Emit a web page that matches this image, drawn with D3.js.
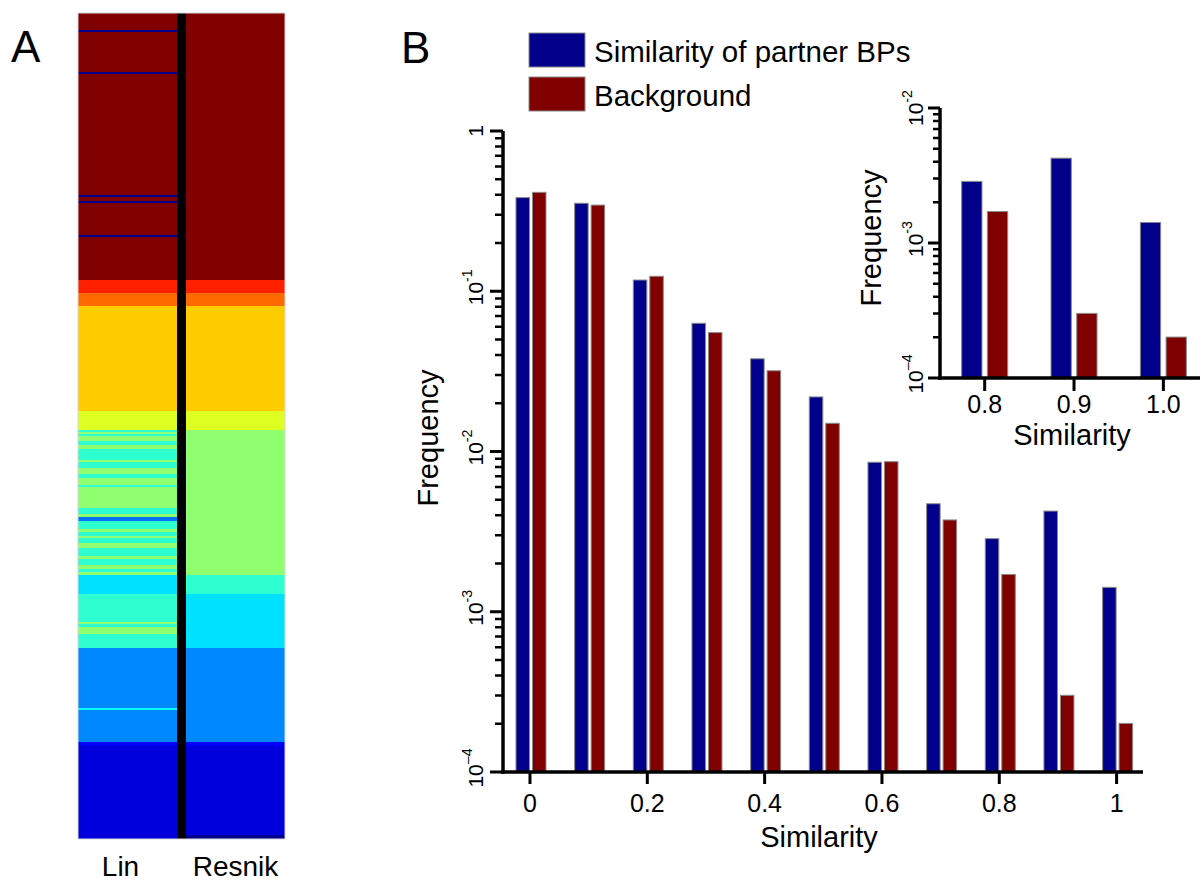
<!DOCTYPE html>
<html lang="en">
<head>
  <meta charset="UTF-8" />
  <title>Similarity of partner BPs</title>
  <script src="https://d3js.org/d3.v7.min.js"></script>
  <style>
    html, body { margin: 0; padding: 0; background: #fff; }
    svg { display: block; font-family: "Liberation Sans", Arial, sans-serif; }
  </style>
</head>
<body>
<svg id="chart" width="1202" height="882"></svg>
<script>
// panel B data
const categories = [0, 0.1, 0.2, 0.3, 0.4, 0.5, 0.6, 0.7, 0.8, 0.9, 1.0];
const partnerFreq = [0.384, 0.354, 0.1175, 0.0631, 0.0379, 0.0219, 0.00857, 0.00472, 0.00286, 0.00425, 0.00142];
const backgroundFreq = [0.414, 0.345, 0.124, 0.0552, 0.0319, 0.0150, 0.00864, 0.00374, 0.00171, 0.000301, 0.000201];
const seriesNames = ["Similarity of partner BPs", "Background"];
const seriesColors = ["#00008b", "#800000"];
const xTicks = [0, 0.2, 0.4, 0.6, 0.8, 1];
const xTickLabels = ["0", "0.2", "0.4", "0.6", "0.8", "1"];
const insetCategories = [0.8, 0.9, 1.0];
const insetTickLabels = ["0.8", "0.9", "1.0"];
const yDecades = [1e-4, 1e-3, 1e-2, 1e-1, 1];
const insetDecades = [1e-4, 1e-3, 1e-2];

// panel A data: runs of [similarity, number of rows], top to bottom
const linRuns = [
  [1, 17], [0, 2], [1, 40], [0, 2], [1, 121], [0, 2], [1, 4], [0, 2], [1, 32], [0, 2], [1, 43],
  [0.844, 13], [0.771, 13], [0.675, 105], [0.592, 19],
  [0.42, 2], [0.516, 2], [0.42, 2], [0.516, 5], [0.42, 4], [0.516, 4], [0.42, 11], [0.516, 2],
  [0.42, 6], [0.516, 6], [0.42, 4], [0.516, 7], [0.42, 2], [0.516, 21], [0.42, 6], [0.516, 3],
  [0.235, 4], [0.42, 8], [0.516, 3], [0.42, 4], [0.516, 2], [0.42, 5], [0.516, 5], [0.42, 8],
  [0.516, 3], [0.42, 6], [0.516, 4], [0.42, 3], [0.516, 3],
  [0.345, 19], [0.42, 28], [0.516, 2], [0.42, 3], [0.516, 7], [0.42, 14],
  [0.258, 60], [0.38, 2], [0.258, 32], [0.12, 4], [0.087, 93]
];
const resnikRuns = [
  [1, 267], [0.844, 13], [0.771, 13], [0.675, 105], [0.592, 19], [0.516, 145],
  [0.42, 19], [0.345, 54], [0.258, 94], [0.12, 4], [0.087, 89], [0, 4]
];
const methods = ["Lin", "Resnik"];

const svg = d3.select("#chart");

// jet colour map
const jet = d3.scaleLinear()
  .domain([0, 0.125, 0.375, 0.625, 0.875, 1])
  .range(["#00008f", "#0000ff", "#00ffff", "#ffff00", "#ff0000", "#800000"]);

// ---------- panel A ----------
const nRows = d3.sum(resnikRuns, d => d[1]);
const rowY = d3.scaleLinear().domain([0, nRows]).range([13, 839]);
const colX = d3.scaleBand().domain(methods).range([78, 285]).paddingInner(0.083);

function runsToCells(runs) {
  let start = 0;
  return runs.map(([v, n]) => { const c = { v, y0: start, y1: start + n }; start += n; return c; });
}

[linRuns, resnikRuns].forEach((runs, i) => {
  svg.append("g").selectAll("rect")
    .data(runsToCells(runs))
    .enter().append("rect")
    .attr("x", colX(methods[i]))
    .attr("width", colX.bandwidth())
    .attr("y", d => rowY(d.y0))
    .attr("height", d => rowY(d.y1) - rowY(d.y0) + 0.3)
    .attr("fill", d => jet(d.v))
    .attr("shape-rendering", "crispEdges");
});
// black divider
svg.append("rect")
  .attr("x", colX("Lin") + colX.bandwidth())
  .attr("y", rowY(0))
  .attr("width", colX("Resnik") - colX("Lin") - colX.bandwidth())
  .attr("height", rowY(nRows) - rowY(0))
  .attr("fill", "#000");
svg.append("rect")
  .attr("x", 78).attr("y", rowY(0))
  .attr("width", 207).attr("height", rowY(nRows) - rowY(0))
  .attr("fill", "none").attr("stroke", "#d8d8d8").attr("stroke-width", 1);

svg.selectAll(".method")
  .data(methods)
  .enter().append("text")
  .attr("x", d => colX(d) + colX.bandwidth() / 2 - (d === "Lin" ? 7 : 0))
  .attr("y", 876)
  .attr("text-anchor", "middle")
  .attr("font-size", 28)
  .text(d => d);

svg.append("text").attr("x", 11).attr("y", 62).attr("font-size", 44).text("A");
svg.append("text").attr("x", 401).attr("y", 63).attr("font-size", 44).text("B");

// ---------- helpers ----------
function powLabel(g, px, py, v, size) {
  const e = Math.round(Math.log10(v));
  const t = g.append("text")
    .attr("transform", `translate(${px},${py}) rotate(-90)`)
    .attr("text-anchor", "middle")
    .attr("dominant-baseline", "central")
    .attr("font-size", size);
  if (e === 0) { t.text("1"); return; }
  t.append("tspan").text("10");
  t.append("tspan").attr("font-size", size * 0.68).attr("dy", -size * 0.38).text(e === -4 ? "\u20134" : "-" + (-e));
}

function minorTicks(lo, hi) {
  const out = [];
  for (let p = Math.round(Math.log10(lo)); p < Math.round(Math.log10(hi)); p++) {
    for (let m = 2; m <= 9; m++) out.push(m * Math.pow(10, p));
  }
  return out;
}

// axes as paths built from the scales
function leftAxis(ys, ax, majors, majLen, minLen) {
  const r = ys.range();
  const g = svg.append("g");
  g.append("path")
    .attr("d", `M${ax},${r[0] + 1.75}V${r[1]}`)
    .attr("stroke", "#000").attr("stroke-width", 3.5).attr("fill", "none");
  const minors = minorTicks(majors[0], majors[majors.length - 1]);
  g.append("path")
    .attr("d", minors.map(v => `M${ax - minLen},${ys(v)}H${ax}`).join(""))
    .attr("stroke", "#000").attr("stroke-width", 2.5).attr("fill", "none");
  g.append("path")
    .attr("d", majors.map(v => `M${ax - majLen},${ys(v)}H${ax}`).join(""))
    .attr("stroke", "#000").attr("stroke-width", 3).attr("fill", "none");
}

function bottomAxis(xs, ay, ticks, labels, tickLen, labelY, size) {
  const r = xs.range();
  const g = svg.append("g");
  g.append("path")
    .attr("d", `M${r[0] - 1.75},${ay}H${r[1]}`)
    .attr("stroke", "#000").attr("stroke-width", 3.5).attr("fill", "none");
  g.append("path")
    .attr("d", ticks.map(v => `M${xs(v)},${ay}V${ay + tickLen}`).join(""))
    .attr("stroke", "#000").attr("stroke-width", 3).attr("fill", "none");
  g.selectAll("text").data(ticks)
    .enter().append("text")
    .attr("x", d => xs(d)).attr("y", labelY)
    .attr("text-anchor", "middle").attr("font-size", size)
    .text((d, i) => labels[i]);
}

function drawBars(g, cats, xs, ys, bandRange, pad) {
  const inner = d3.scaleBand().domain(seriesNames).range(bandRange).paddingInner(pad);
  const rows = cats.map(c => {
    const i = categories.indexOf(c);
    return { c, vals: [partnerFreq[i], backgroundFreq[i]] };
  });
  const grp = g.selectAll(".grp").data(rows).enter().append("g")
    .attr("class", "grp")
    .attr("transform", d => `translate(${xs(d.c)},0)`);
  grp.selectAll("rect")
    .data(d => d.vals.map((v, k) => ({ v, k })))
    .enter().append("rect")
    .attr("x", d => inner(seriesNames[d.k]))
    .attr("width", inner.bandwidth())
    .attr("y", d => ys(d.v))
    .attr("height", d => ys.range()[0] - ys(d.v))
    .attr("fill", d => seriesColors[d.k])
    .attr("stroke", "#8a8a8a")
    .attr("stroke-width", 1);
}

// ---------- main chart ----------
const xMain = d3.scaleLinear().domain([-0.046, 1.045]).range([503, 1143]);
const yMain = d3.scaleLog().domain([1e-4, 1]).range([772, 131]);

const main = svg.append("g");
drawBars(main, categories, xMain, yMain, [-14, 16], 0.18);
leftAxis(yMain, 503, yDecades, 13, 8);
bottomAxis(xMain, 772, xTicks, xTickLabels, 12, 812, 25);
yDecades.forEach(v => powLabel(main, 475, yMain(v) - (v === 1 ? 0 : 4), v, 21));

main.append("text")
  .attr("transform", "translate(428,438) rotate(-90)")
  .attr("text-anchor", "middle").attr("dominant-baseline", "central")
  .attr("font-size", 29).text("Frequency");
main.append("text")
  .attr("x", 819).attr("y", 847)
  .attr("text-anchor", "middle").attr("font-size", 29).text("Similarity");

// legend
const legend = svg.append("g").selectAll("g")
  .data(seriesNames).enter().append("g")
  .attr("transform", (d, i) => `translate(529,${33 + i * 44})`);
legend.append("rect")
  .attr("width", 56).attr("height", 34)
  .attr("fill", (d, i) => seriesColors[i])
  .attr("stroke", "#8a8a8a").attr("stroke-width", 1);
legend.append("text")
  .attr("x", 65).attr("y", 29)
  .attr("font-size", 29.5).text(d => d);

// ---------- inset ----------
const xIn = d3.scaleLinear().domain([0.75, 1.041]).range([940, 1200]);
const yIn = d3.scaleLog().domain([1e-4, 1e-2]).range([378, 108]);
const inset = svg.append("g");
drawBars(inset, insetCategories, xIn, yIn, [-23, 23], 0.21);
leftAxis(yIn, 940, insetDecades, 12, 7);
bottomAxis(xIn, 378, insetCategories, insetTickLabels, 13, 413, 25);
insetDecades.forEach(v => powLabel(inset, 915, yIn(v) - (v === 1e-2 ? 0 : 4), v, 21));

inset.append("text")
  .attr("transform", "translate(871,238) rotate(-90)")
  .attr("text-anchor", "middle").attr("dominant-baseline", "central")
  .attr("font-size", 29).text("Frequency");
inset.append("text")
  .attr("x", 1072).attr("y", 445)
  .attr("text-anchor", "middle").attr("font-size", 29).text("Similarity");
</script>
</body>
</html>
